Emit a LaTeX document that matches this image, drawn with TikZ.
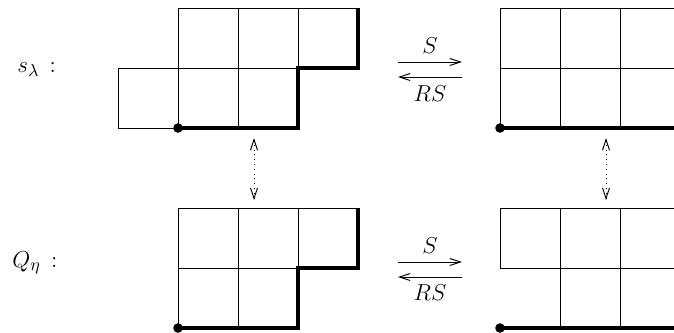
\documentclass[tikz,border=0pt]{standalone}
\usetikzlibrary{arrows.meta}
\begin{document}
\begin{tikzpicture}[x=0.52pt,y=-0.52pt,
  cell/.style={line width=0.5pt},
  rim/.style={line width=2pt,line join=miter},
  corner/.style={fill=black},
  tip/.tip={Straight Barb[length=5.5pt,width=3.6pt,line width=0.5pt]},
  map/.style={-tip,line width=0.5pt},
  link/.style={tip-tip,dotted,line width=0.5pt},
  lab/.style={inner sep=0pt,font=\fontsize{11.5}{14}\selectfont},
  side/.style={inner sep=0pt,anchor=base west,font=\fontsize{12.5}{15}\selectfont}]
\useasboundingbox (0,0) rectangle (674,332);
\clip (0,0) rectangle (674,332);
% labels
\node[side] (slam) at (17,72) {$s_\lambda\,:$};
\node[side] (qeta) at (12,267) {$Q_\eta\,:$};
% cells
\foreach \x/\y in {178/8,238/8,298/8,118/68,178/68,238/68,
                   500/8,560/8,620/8,500/68,560/68,620/68,
                   178/208,238/208,298/208,178/268,238/268,
                   500/208,560/208,620/208,560/268,620/268}
  \draw[cell] (\x,\y) rectangle ++(60,60);
% rims
\coordinate (tl) at (178,128);
\coordinate (tr) at (500,128);
\coordinate (bl) at (178,328);
\coordinate (br) at (500,328);
\draw[rim] (tl) -- (298,128) -- (298,68) -- (358,68) -- (358,8);
\draw[rim] (tr) -- (680,128) -- (680,8);
\draw[rim] (bl) -- (298,328) -- (298,268) -- (358,268) -- (358,208);
\draw[rim] (br) -- (680,328) -- (680,208);
\foreach \p in {tl,tr,bl,br} \fill[corner] (\p) circle (4.8);
% maps
\coordinate (a1) at (398,62); \coordinate (b1) at (462,62);
\coordinate (c1) at (462,77); \coordinate (d1) at (398,77);
\coordinate (a2) at (398,262); \coordinate (b2) at (462,262);
\coordinate (c2) at (462,277); \coordinate (d2) at (398,277);
\draw[map] (a1) -- (b1);
\draw[map] (c1) -- (d1);
\draw[map] (a2) -- (b2);
\draw[map] (c2) -- (d2);
\node[lab] (s1) at (430,46) {$S$};
\node[lab] (rs1) at (430,94) {$RS$};
\node[lab] (s2) at (430,246) {$S$};
\node[lab] (rs2) at (430,293) {$RS$};
% links
\coordinate (u1) at (254,138); \coordinate (v1) at (254,200);
\coordinate (u2) at (606,138); \coordinate (v2) at (606,200);
\draw[link] (u1) -- (v1);
\draw[link] (u2) -- (v2);
\end{tikzpicture}
\end{document}
